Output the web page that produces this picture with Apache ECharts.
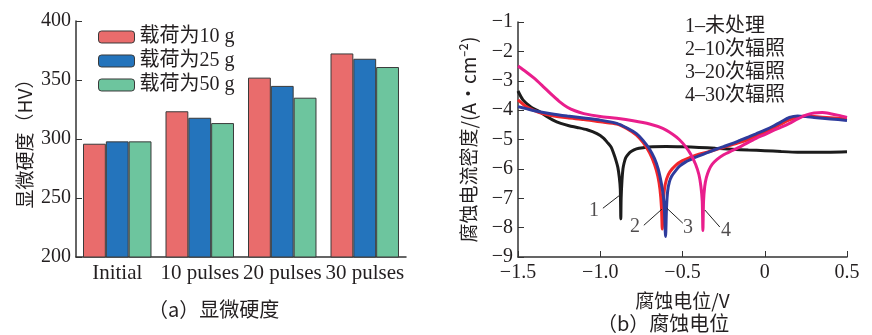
<!DOCTYPE html>
<html><head><meta charset="utf-8">
<script src="https://cdn.jsdelivr.net/npm/echarts@6/dist/echarts.min.js"></script>
<style>html,body{margin:0;padding:0;background:#fff}#c{width:872px;height:335px}</style>
</head><body><div id="c"></div>
<script>
// ---- Data: (a) microhardness ----
const categories = ['Initial', '10 pulses', '20 pulses', '30 pulses'];
const load10 = [296, 323.5, 352, 372.5];
const load25 = [298, 318, 345, 368];
const load50 = [298, 313.5, 335, 361];
const seriesNames = ['载荷为10 g', '载荷为25 g', '载荷为50 g'];
const hvTicks = [200, 250, 300, 350, 400];

// ---- Data: (b) polarization curves [potential V, log current density] ----
const curve1 = [[-1.5,-3.35],[-1.47,-3.65],[-1.42,-3.9],[-1.37,-4.05],[-1.33,-4.2],[-1.29,-4.33],[-1.24,-4.45],[-1.19,-4.53],[-1.14,-4.59],[-1.08,-4.67],[-1.02,-4.8],[-0.98,-4.95],[-0.96,-5.08],[-0.935,-5.25],[-0.92,-5.45],[-0.905,-5.7],[-0.893,-5.95],[-0.884,-6.3],[-0.878,-6.7],[-0.875,-7.7],[-0.873,-7.0],[-0.868,-6.4],[-0.862,-6.0],[-0.855,-5.8],[-0.845,-5.62],[-0.83,-5.5],[-0.81,-5.4],[-0.78,-5.32],[-0.74,-5.28],[-0.68,-5.25],[-0.6,-5.24],[-0.5,-5.25],[-0.4,-5.27],[-0.3,-5.3],[-0.2,-5.33],[-0.1,-5.36],[0,-5.38],[0.1,-5.41],[0.2,-5.43],[0.3,-5.43],[0.4,-5.43],[0.5,-5.42]];
const curve2 = [[-1.5,-3.65],[-1.45,-3.88],[-1.4,-4.02],[-1.35,-4.12],[-1.3,-4.18],[-1.2,-4.26],[-1.1,-4.32],[-1.0,-4.4],[-0.9,-4.47],[-0.84,-4.62],[-0.78,-4.85],[-0.74,-5.1],[-0.7,-5.45],[-0.67,-5.85],[-0.65,-6.25],[-0.637,-6.7],[-0.628,-7.3],[-0.623,-8.05],[-0.618,-7.2],[-0.61,-6.7],[-0.597,-6.35],[-0.577,-6.1],[-0.54,-5.87],[-0.5,-5.72],[-0.45,-5.6],[-0.4,-5.5],[-0.35,-5.43],[-0.3,-5.35],[-0.25,-5.27],[-0.2,-5.18],[-0.15,-5.1],[-0.1,-5.0],[-0.05,-4.88],[0,-4.76],[0.05,-4.62],[0.1,-4.47],[0.15,-4.33],[0.2,-4.25],[0.25,-4.2],[0.3,-4.22],[0.4,-4.26],[0.5,-4.3]];
const curve3 = [[-1.5,-3.88],[-1.45,-3.95],[-1.4,-4.02],[-1.3,-4.12],[-1.2,-4.2],[-1.1,-4.27],[-1.0,-4.34],[-0.9,-4.45],[-0.84,-4.6],[-0.78,-4.8],[-0.74,-5.03],[-0.7,-5.33],[-0.67,-5.65],[-0.648,-6.0],[-0.63,-6.45],[-0.617,-6.9],[-0.61,-7.4],[-0.603,-8.3],[-0.597,-7.3],[-0.59,-6.75],[-0.58,-6.45],[-0.566,-6.25],[-0.54,-6.05],[-0.516,-5.9],[-0.48,-5.76],[-0.435,-5.64],[-0.4,-5.56],[-0.35,-5.45],[-0.3,-5.34],[-0.25,-5.24],[-0.2,-5.14],[-0.15,-5.03],[-0.1,-4.92],[-0.05,-4.8],[0,-4.68],[0.05,-4.55],[0.1,-4.4],[0.15,-4.25],[0.2,-4.2],[0.25,-4.22],[0.3,-4.25],[0.4,-4.3],[0.5,-4.35]];
const curve4 = [[-1.5,-2.5],[-1.45,-2.7],[-1.4,-2.92],[-1.35,-3.18],[-1.3,-3.45],[-1.25,-3.7],[-1.2,-3.9],[-1.15,-4.03],[-1.1,-4.12],[-1.0,-4.22],[-0.9,-4.28],[-0.8,-4.36],[-0.7,-4.47],[-0.62,-4.62],[-0.56,-4.82],[-0.52,-5.0],[-0.48,-5.25],[-0.45,-5.5],[-0.42,-5.85],[-0.4,-6.2],[-0.388,-6.6],[-0.38,-7.1],[-0.376,-8.1],[-0.372,-7.1],[-0.365,-6.6],[-0.355,-6.3],[-0.34,-6.05],[-0.32,-5.85],[-0.29,-5.68],[-0.25,-5.52],[-0.2,-5.38],[-0.15,-5.25],[-0.1,-5.1],[-0.05,-4.95],[0,-4.83],[0.05,-4.7],[0.1,-4.58],[0.15,-4.45],[0.2,-4.3],[0.25,-4.17],[0.3,-4.1],[0.35,-4.08],[0.4,-4.12],[0.45,-4.18],[0.5,-4.25]];
const curveLegend = ['1–未处理', '2–10次辐照', '3–20次辐照', '4–30次辐照'];
const markerTexts = ['1', '2', '3', '4'];
const markerPos = [[-1.038,-7.41],[-0.789,-7.98],[-0.467,-8.02],[-0.236,-8.09]];
const leaderLines = [[[-0.984,-7.34],[-0.88,-6.89]],[[-0.735,-7.92],[-0.625,-7.37]],[[-0.498,-7.85],[-0.595,-7.34]],[[-0.273,-7.98],[-0.364,-7.40]]];
const potTicks = [-1.5, -1.0, -0.5, 0, 0.5];
const currTicks = [-9, -8, -7, -6, -5, -4, -3, -2, -1];

const FONT = '"Liberation Serif", "Noto Sans CJK SC", serif';
const CJK = '"Noto Sans CJK SC", "Liberation Serif", sans-serif';
const minus = s => String(s).replace('-', '−');
const txt = '#231f20';

const barColors = ['#E96C6C', '#2474BC', '#6DC59E'];
const curveColors = ['#1c1c1c', '#F2262A', '#2E3B9C', '#E91E8C'];

const chart = echarts.init(document.getElementById('c'), null, {renderer: 'canvas'});

const series = [];
[load10, load25, load50].forEach((d, i) => {
  series.push({
    type: 'bar', name: seriesNames[i], xAxisIndex: 0, yAxisIndex: 0, data: d,
    barGap: '0%', barCategoryGap: '17%',
    itemStyle: {color: barColors[i], borderColor: '#3a3a3a', borderWidth: 1}
  });
});
[curve1, curve2, curve3, curve4].forEach((d, i) => {
  series.push({
    type: 'line', xAxisIndex: 1, yAxisIndex: 1, data: d, showSymbol: false, symbol: 'none',
    smooth: 0.25, lineStyle: {color: curveColors[i], width: 3}, z: 3 + i, silent: true
  });
});
leaderLines.forEach(seg => {
  series.push({type: 'line', xAxisIndex: 1, yAxisIndex: 1, data: seg, symbol: 'none',
    lineStyle: {color: '#222', width: 1}, z: 10, silent: true});
});
series.push({
  type: 'scatter', xAxisIndex: 1, yAxisIndex: 1, symbolSize: 0, z: 11, silent: true,
  data: markerPos.map((p, i) => ({value: p, label: {formatter: markerTexts[i]}})),
  label: {show: true, position: 'inside', fontFamily: FONT, fontSize: 20, color: txt}
});

const option = {
  backgroundColor: '#fff',
  animation: false,
  textStyle: {fontFamily: FONT},
  legend: {
    data: seriesNames, orient: 'vertical', left: 93, top: 22,
    itemWidth: 36, itemHeight: 12, itemGap: 4,
    textStyle: {fontFamily: FONT, fontSize: 20, color: txt, padding: [0, 0, 0, 0]},
    itemStyle: {borderColor: '#3a3a3a', borderWidth: 1}
  },
  grid: [
    {left: 76, right: 466, top: 21, bottom: 78},
    {left: 518, right: 25, top: 22, bottom: 78}
  ],
  xAxis: [
    {type: 'category', gridIndex: 0, data: categories,
     axisLine: {lineStyle: {color: '#333', width: 1.5}}, axisTick: {show: false},
     axisLabel: {fontFamily: FONT, fontSize: 21, color: txt, margin: 6, interval: 0, hideOverlap: false}},
    {type: 'value', gridIndex: 1, min: -1.5, max: 0.5, interval: 0.5,
     axisLine: {onZero: false, lineStyle: {color: '#333', width: 1.5}},
     axisTick: {inside: true, length: 6, lineStyle: {color: '#333'}},
     splitLine: {show: false},
     axisLabel: {fontFamily: FONT, fontSize: 20, color: txt, margin: 6,
       formatter: v => v === 0 ? '0' : minus(v.toFixed(1))},
     name: '腐蚀电位/V', nameLocation: 'middle', nameGap: 34,
     nameTextStyle: {fontFamily: CJK, fontSize: 19, color: txt}}
  ],
  yAxis: [
    {type: 'value', gridIndex: 0, min: 200, max: 400, interval: 50,
     axisLine: {show: true, lineStyle: {color: '#333', width: 1.5}},
     axisTick: {show: true, inside: true, length: 6, lineStyle: {color: '#333'}},
     splitLine: {show: false},
     axisLabel: {fontFamily: FONT, fontSize: 20, color: txt, margin: 5},
     name: '显微硬度（HV）', nameLocation: 'middle', nameGap: 42,
     nameTextStyle: {fontFamily: CJK, fontSize: 19, color: txt}},
    {type: 'value', gridIndex: 1, min: -9, max: -1, interval: 1,
     axisLine: {show: true, onZero: false, lineStyle: {color: '#333', width: 1.5}},
     axisTick: {show: true, inside: true, length: 6, lineStyle: {color: '#333'}},
     splitLine: {show: false},
     axisLabel: {fontFamily: FONT, fontSize: 20, color: txt, margin: 5, formatter: v => minus(v)},
     name: '腐蚀电流密度/(A·cm⁻²)', nameLocation: 'middle', nameGap: 40,
     nameTextStyle: {fontFamily: CJK, fontSize: 19, color: txt}}
  ],
  graphic: [
    {type: 'text', left: 685, top: 15, style: {text: curveLegend.join('\n'), font: '20px ' + FONT, lineHeight: 23, fill: txt}},
    {type: 'text', left: 148, top: 299, style: {text: '（a）显微硬度', font: '20px ' + CJK, fill: txt}},
    {type: 'text', left: 597, top: 313, style: {text: '（b）腐蚀电位', font: '20px ' + CJK, fill: txt}}
  ],
  series: series
};
chart.setOption(option);
</script>
</body></html>
